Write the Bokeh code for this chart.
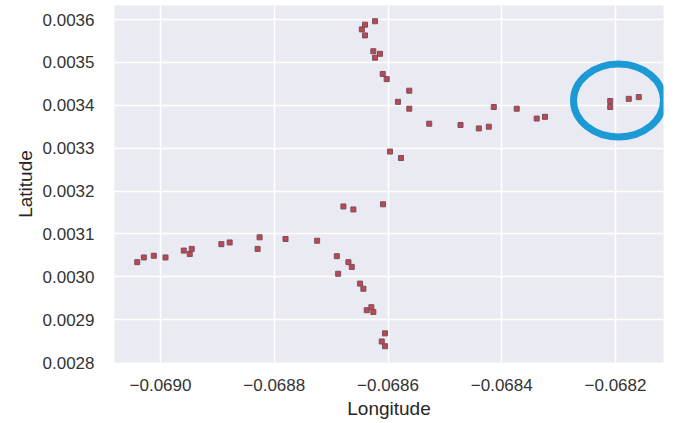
from bokeh.plotting import figure
from bokeh.models import ColumnDataSource, FixedTicker, CustomJSTickFormatter, Range1d
from bokeh.embed import file_html
from bokeh.resources import INLINE

longitude = [
    -0.0686228, -0.0686404, -0.0686461, -0.0686404, -0.0686258, -0.0686140, -0.0686228,
    -0.0686093, -0.0686023, -0.0685626, -0.0685825, -0.0685626, -0.0685275, -0.0685965,
    -0.0685772, -0.0686784, -0.0686609, -0.0686088, -0.0686900, -0.0686696, -0.0686637,
    -0.0686877, -0.0686491, -0.0686433, -0.0686374, -0.0686293, -0.0686258, -0.0686053,
    -0.0686110, -0.0686053,
    -0.0690409, -0.0690293, -0.0690118, -0.0689912, -0.0689591, -0.0689486, -0.0689451,
    -0.0688930, -0.0688784, -0.0688258, -0.0688293, -0.0687802, -0.0687246,
    -0.0684725, -0.0684403, -0.0684228, -0.0684140, -0.0683737, -0.0683386, -0.0683240,
    -0.0682093, -0.0682093, -0.0681767, -0.0681591,
]
latitude = [
    0.003596, 0.003588, 0.003577, 0.003563, 0.003526, 0.003520, 0.003511,
    0.003473, 0.003461, 0.003434, 0.003408, 0.003392, 0.003357, 0.003292,
    0.003277, 0.003164, 0.003157, 0.003169, 0.003048, 0.003034, 0.003023,
    0.003007, 0.002984, 0.002972, 0.002922, 0.002929, 0.002918, 0.002868,
    0.002849, 0.002838,
    0.003034, 0.003045, 0.003049, 0.003045, 0.003061, 0.003053, 0.003065,
    0.003076, 0.003080, 0.003092, 0.003065, 0.003088, 0.003084,
    0.003354, 0.003346, 0.003350, 0.003396, 0.003392, 0.003369, 0.003373,
    0.003410, 0.003396, 0.003415, 0.003419,
]

x_ticks = [-0.0690, -0.0688, -0.0686, -0.0684, -0.0682]
y_ticks = [0.0028, 0.0029, 0.0030, 0.0031, 0.0032, 0.0033, 0.0034, 0.0035, 0.0036]

# highlighted cluster (annotation ring)
ring_lon = [-0.0681947]
ring_lat = [0.0034111]
ring_w = [0.0001582]
ring_h = [0.0001703]

p = figure(width=681, height=423, output_backend="svg", toolbar_location=None,
           x_range=Range1d(-0.0690809, -0.0681156), y_range=Range1d(0.0028, 0.0036327),
           min_border_left=114, min_border_right=18, min_border_top=5, min_border_bottom=61)

p.background_fill_color = "#EAEAF2"
p.border_fill_color = "white"
p.outline_line_color = None

src = ColumnDataSource(dict(lon=longitude, lat=latitude))
p.scatter("lon", "lat", source=src, marker="square", size=5,
          fill_color="#c0474d", line_color="#765064", line_width=1)

p.ellipse(x=ring_lon, y=ring_lat, width=ring_w, height=ring_h,
          fill_color=None, line_color="#1b9ad6", line_width=7)

fmt = CustomJSTickFormatter(code="""
    const s = Math.abs(tick).toFixed(4);
    return (tick < 0 ? "\\u2212" : "") + s;
""")

p.xaxis.ticker = FixedTicker(ticks=x_ticks)
p.yaxis.ticker = FixedTicker(ticks=y_ticks)
p.xaxis.formatter = fmt
p.yaxis.formatter = fmt

for ax in (p.xaxis, p.yaxis):
    ax.axis_line_color = None
    ax.major_tick_line_color = None
    ax.minor_tick_line_color = None
    ax.major_tick_out = 0
    ax.major_tick_in = 0
    ax.major_label_text_font = "Liberation Sans"
    ax.major_label_text_font_size = "17px"
    ax.major_label_text_color = "#333333"
    ax.axis_label_text_font = "Liberation Sans"
    ax.axis_label_text_font_size = "19px"
    ax.axis_label_text_font_style = "normal"
    ax.axis_label_text_color = "#262626"

p.xaxis.axis_label = "Longitude"
p.yaxis.axis_label = "Latitude"
p.xaxis.major_label_standoff = 16
p.yaxis.major_label_standoff = 20
p.xaxis.axis_label_standoff = 4
p.yaxis.axis_label_standoff = 4

p.grid.grid_line_color = "white"
p.grid.grid_line_width = 1.5
p.xgrid.ticker = FixedTicker(ticks=x_ticks)
p.ygrid.ticker = FixedTicker(ticks=y_ticks)

open("out.html", "w").write(file_html(p, INLINE))
